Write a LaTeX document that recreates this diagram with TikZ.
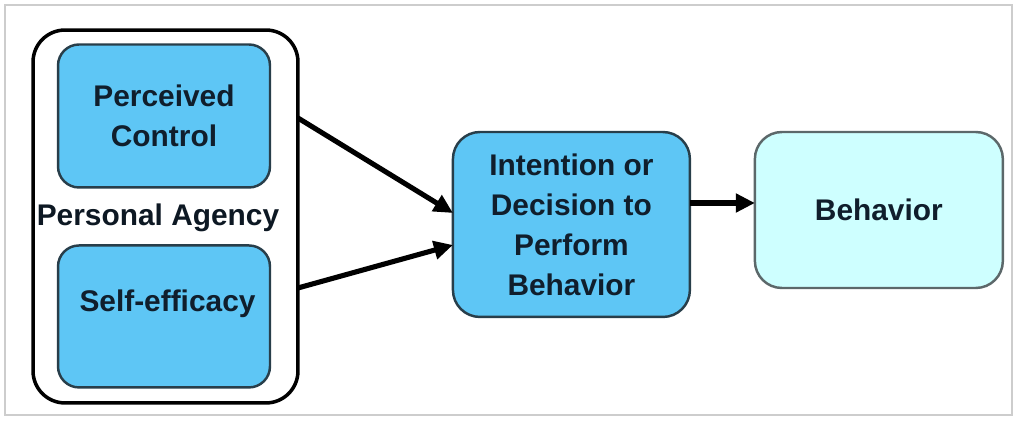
\documentclass[tikz,border=0pt]{standalone}
\usepackage{fontspec}
\setmainfont{Liberation Sans}
\usetikzlibrary{positioning,arrows.meta}
\definecolor{agencyblue}{RGB}{94,198,245}
\definecolor{behaviorcyan}{RGB}{206,255,255}
\definecolor{boxline}{RGB}{40,62,74}
\definecolor{paleline}{RGB}{92,104,106}
\definecolor{textnavy}{RGB}{16,30,44}
\definecolor{framegray}{RGB}{205,205,205}

\begin{document}
\begin{tikzpicture}[
	x=0.02cm, y=-0.02cm,
	box/.style={rectangle, rounded corners=0.42cm, draw=boxline, line width=1.4pt,
		fill=agencyblue, align=center, text=textnavy, inner sep=0pt},
	agencybox/.style={rectangle, rounded corners=0.64cm, draw=black, line width=2pt,
		fill=white, minimum width=5.3cm, minimum height=7.46cm},
	arrow/.style={-{Triangle[length=0.38cm,width=0.36cm]}, line width=2.9pt},
	every node/.style={outer sep=0pt, font=\fontsize{17}{22.8}\selectfont\bfseries},
]
\useasboundingbox (0,0) rectangle (1018,421);
% Thin frame round the whole picture.
\draw[framegray, line width=0.8pt] (5,5) rectangle (1012,415);

	\node[agencybox] (PA) at (165.5,216.5) {};
	\node[box, minimum width=4.24cm, minimum height=2.86cm] (PC) at (164,116)
		{Perceived\\Control};
	\node[box, below=1.16cm of PC, minimum width=4.24cm, minimum height=2.84cm,
		text depth=0.62cm] (SE) {\hspace*{0.14cm}Self-efficacy};
	\node[text=textnavy!80!black] (PAlabel) at (158,218) {Personal Agency};

	\node[box, right=3.1cm of PA, yshift=-0.16cm, minimum width=4.74cm,
		minimum height=3.7cm, rounded corners=0.54cm] (IN)
		{Intention or\\Decision to\\Perform\\Behavior};
	\node[box, right=1.3cm of IN, yshift=0.29cm, minimum width=4.96cm,
		minimum height=3.12cm, rounded corners=0.54cm, fill=behaviorcyan,
		draw=paleline] (BE) {Behavior};

	\draw[arrow] ([yshift=1.97cm]PA.east) -- ([yshift=0.23cm]IN.west);
	\draw[arrow] ([yshift=-1.43cm]PA.east) -- ([yshift=-0.41cm]IN.west);
	\draw[arrow] ([yshift=0.43cm]IN.east) -- ([yshift=0.14cm]BE.west);
\end{tikzpicture}
\end{document}
